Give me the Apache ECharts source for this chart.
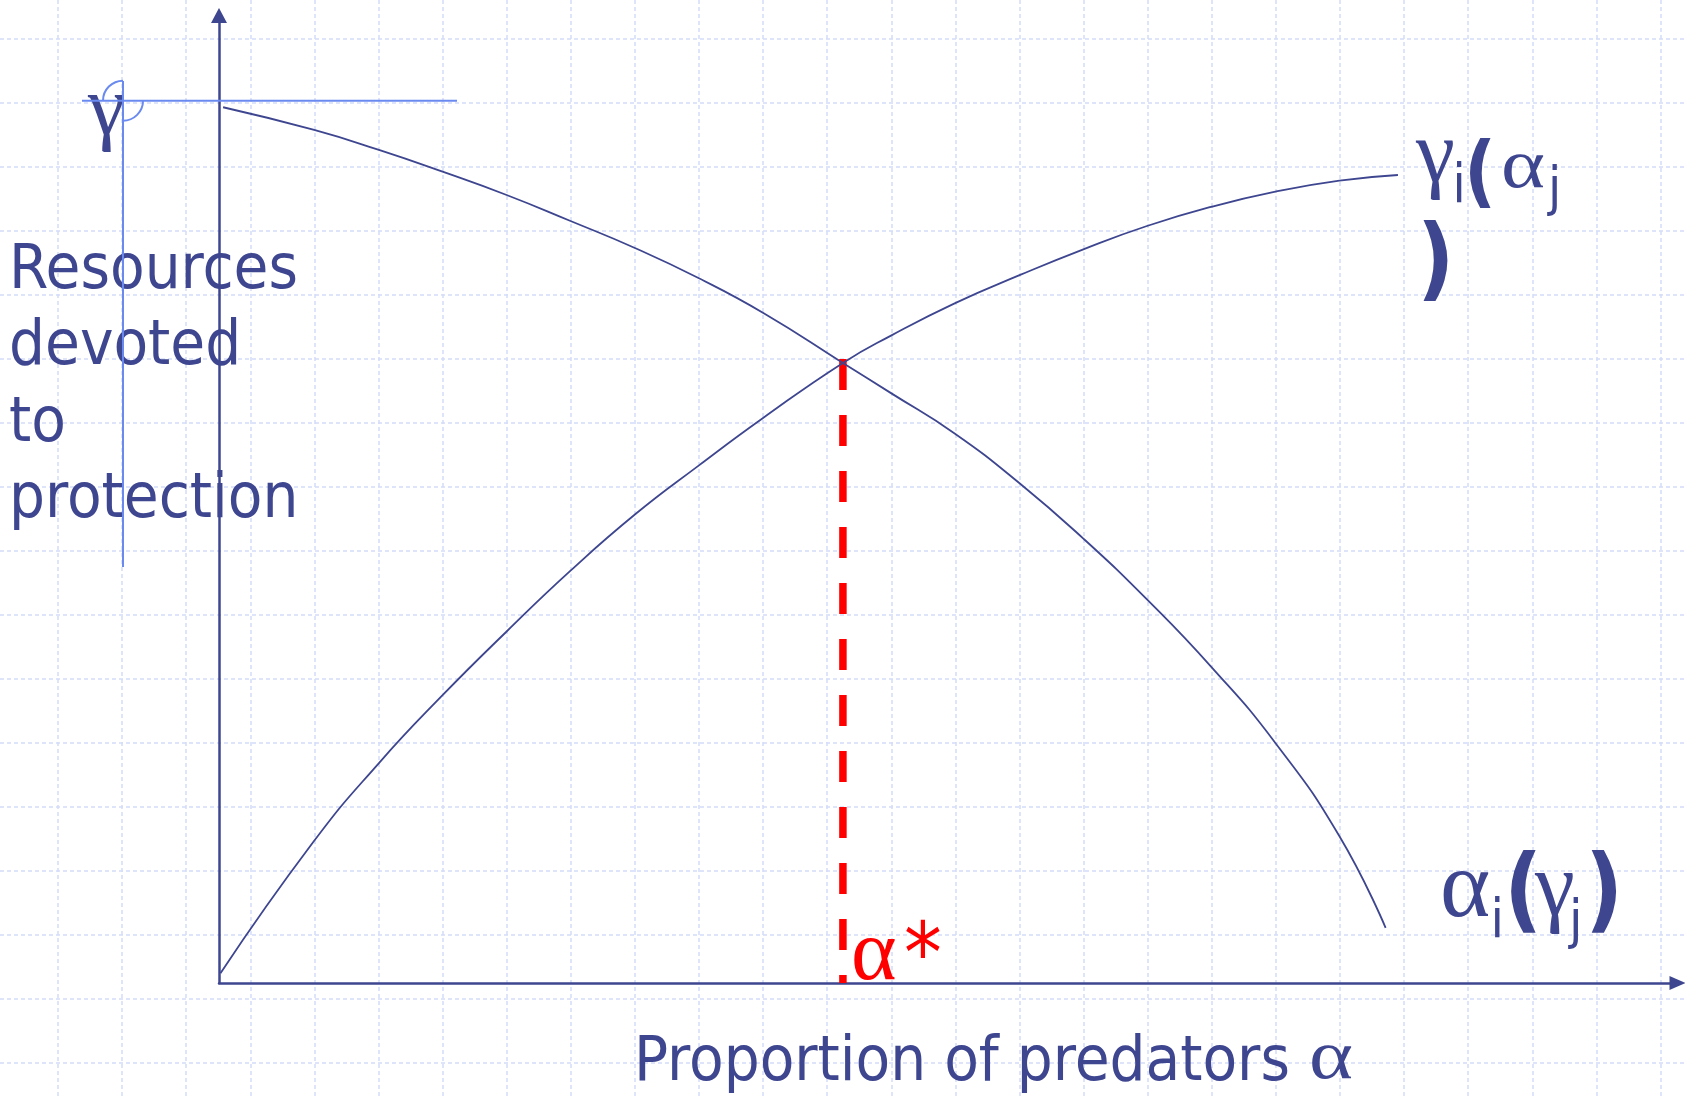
<!DOCTYPE html>
<html>
<head>
    <meta charset="utf-8">
    <title></title>
    <script src="https://cdn.jsdelivr.net/npm/echarts@6/dist/echarts.min.js"></script>
    <style>
        html, body { margin: 0; padding: 0; background: #fff; }
    </style>
</head>
<body>
    <div id="main" style="width: 1685px;height:1099px;"></div>
    <script type="text/javascript">
// curve points (x: proportion of predators, y: resources to protection)
var gammaCurve = [[0.1, 1.0], [6.43, 14.46], [10.91, 22.56], [15.2, 29.44], [19.62, 36.05],
  [23.98, 42.29], [28.41, 48.1], [32.74, 53.09], [37.16, 58.0], [42.56, 63.6], [45.84, 66.4],
  [50.18, 69.71], [54.65, 72.62], [58.96, 75.25], [63.3, 77.64], [67.67, 79.6], [72.06, 81.16],
  [76.43, 82.29], [80.42, 82.87]]
var alphaCurve = [[0.28, 89.82], [6.49, 87.49], [10.91, 85.44], [15.25, 83.21], [19.62, 80.82],
  [23.98, 78.15], [28.41, 75.36], [32.74, 72.28], [37.16, 68.7], [42.56, 63.6], [45.84, 60.5],
  [50.18, 56.37], [54.65, 51.21], [58.96, 45.58], [63.3, 39.34], [67.67, 32.45], [72.06, 24.62],
  [76.43, 15.05], [79.58, 5.66]]
var alphaStar = 42.56
var alphaStarTop = 64.0
// light blue guide marks near the gamma label (in squared-paper cells)
var guideH = [[0.374, 1.5734], [6.225, 1.5734]]
var guideV = [[1.014, 1.2656], [1.014, 8.859]]

var ink = '#3e4690'
var guideBlue = '#6a8af0'
var sans = "'DejaVu Sans Condensed', 'DejaVu Sans', sans-serif"
var serif = "'Liberation Serif', 'DejaVu Serif', serif"

var myChart = echarts.init(document.getElementById('main'))

var paperLine = { show: true, showMaxLine: false,
  lineStyle: { color: '#d3dcf8', width: 1.5, type: [4, 3] } }
var hidden = { show: false }

option = {
  backgroundColor: '#fff',
  animation: false,
  grid: [
    { left: 58, top: 0, right: 0, bottom: 0 },   // vertical paper lines
    { left: 0, top: 39, right: 0, bottom: 0 },   // horizontal paper lines
    { left: 219, top: 15.5, right: 7.5, bottom: 116 }
  ],
  xAxis: [{
    gridIndex: 0, type: 'value', min: 0, max: 25.382, interval: 1,
    axisLine: hidden, axisTick: hidden, axisLabel: hidden, splitLine: paperLine
  }, {
    gridIndex: 1, type: 'value', min: 0, max: 1,
    axisLine: hidden, axisTick: hidden, axisLabel: hidden, splitLine: hidden
  }, {
    gridIndex: 2, type: 'value', min: 0, max: 99.49,
    axisLine: {
      show: true, symbol: ['none', 'triangle'], symbolSize: [14, 16],
      lineStyle: { color: ink, width: 2.5 }
    },
    axisTick: hidden, axisLabel: hidden, splitLine: hidden
  }],
  yAxis: [{
    gridIndex: 0, type: 'value', inverse: true, min: 0, max: 17.172,
    axisLine: hidden, axisTick: hidden, axisLabel: hidden, splitLine: hidden
  }, {
    gridIndex: 1, type: 'value', inverse: true, min: 0, max: 16.5625, interval: 1,
    axisLine: hidden, axisTick: hidden, axisLabel: hidden, splitLine: paperLine
  }, {
    gridIndex: 2, type: 'value', min: 0, max: 99.23,
    axisLine: {
      show: true, symbol: ['none', 'triangle'], symbolSize: [16, 15],
      lineStyle: { color: ink, width: 2.5 }
    },
    axisTick: hidden, axisLabel: hidden, splitLine: hidden
  }],
  series: [{
    name: 'gamma_i(alpha_j)', type: 'line', xAxisIndex: 2, yAxisIndex: 2,
    data: gammaCurve, smooth: true, showSymbol: false, z: 4,
    lineStyle: { color: ink, width: 1.8 }
  }, {
    name: 'alpha_i(gamma_j)', type: 'line', xAxisIndex: 2, yAxisIndex: 2,
    data: alphaCurve, smooth: true, showSymbol: false, z: 4,
    lineStyle: { color: ink, width: 1.8 }
  }, {
    name: 'alpha star', type: 'line', xAxisIndex: 2, yAxisIndex: 2,
    data: [[alphaStar, alphaStarTop], [alphaStar, 0]], showSymbol: false, z: 3,
    lineStyle: { color: '#ff0000', width: 7.5, type: [31, 25], cap: 'butt' }
  }, {
    name: 'guide h', type: 'line', xAxisIndex: 0, yAxisIndex: 0,
    data: guideH, showSymbol: false, z: 3,
    lineStyle: { color: guideBlue, width: 2 }
  }, {
    name: 'guide v', type: 'line', xAxisIndex: 0, yAxisIndex: 0,
    data: guideV, showSymbol: false, z: 3,
    lineStyle: { color: guideBlue, width: 2 }
  }]
}
myChart.setOption(option)

// text pieces placed by baseline (offsets tuned to the renderer)
function txt(t, x, base, size, fam, color, sx, weight) {
  var mid = base - (fam === serif ? 0.30 : 0.28) * size
  return {
    type: 'text', x: x, y: mid, scaleX: sx || 1, z: 1,
    style: { text: t, x: 0, y: 0, fill: color || ink, align: 'left', verticalAlign: 'middle',
      font: (weight || 'normal') + ' ' + size + 'px ' + fam }
  }
}

var c = myChart.convertToPixel({ gridIndex: 0 }, [guideV[0][0], guideH[0][1]])
var els = [
  { type: 'arc', z: 5, shape: { cx: c[0], cy: c[1], r: 20, startAngle: Math.PI, endAngle: Math.PI * 1.5 },
    style: { stroke: guideBlue, lineWidth: 2, fill: null } },
  { type: 'arc', z: 5, shape: { cx: c[0], cy: c[1], r: 20, startAngle: 0, endAngle: Math.PI * 0.5 },
    style: { stroke: guideBlue, lineWidth: 2, fill: null } },
  { type: 'text', x: 9, y: 289 - 0.28 * 63 - 38.25, z: 1,
    style: { text: 'Resources\ndevoted\nto\nprotection', fill: ink, align: 'left', verticalAlign: 'top',
      lineHeight: 76.5, font: '63px ' + sans } },
  txt('γ', 88, 137, 84, serif),
  txt('Proportion of predators', 634, 1081, 63, sans),
  txt('α', 1309, 1081, 70, serif, ink, 1.2),
  // γi(αj )
  txt('γ', 1416, 184, 88, serif),
  txt('i', 1452.5, 203, 53, sans),
  txt('(', 1464, 200, 78, sans, ink, 1, 'bold'),
  txt('α', 1501, 190, 70, serif, ink, 1.2),
  txt('j', 1548, 206, 53, sans),
  txt(')', 1417, 291, 91, sans, ink, 1, 'bold'),
  // αi(γj)
  txt('α', 1440, 920, 96, serif),
  txt('i', 1490.5, 938, 54, sans),
  txt('(', 1504, 923, 93, sans, ink, 1, 'bold'),
  txt('γ', 1535, 918, 90, serif),
  txt('j', 1569, 939, 54, sans),
  txt(')', 1585, 923, 93, sans, ink, 1, 'bold'),
  // α*
  txt('α', 851, 982, 87, serif, '#ff0000'),
  txt('*', 904, 984, 84, sans, '#ff0000')
]
myChart.setOption({ graphic: { elements: els } })
    </script>
</body>
</html>
